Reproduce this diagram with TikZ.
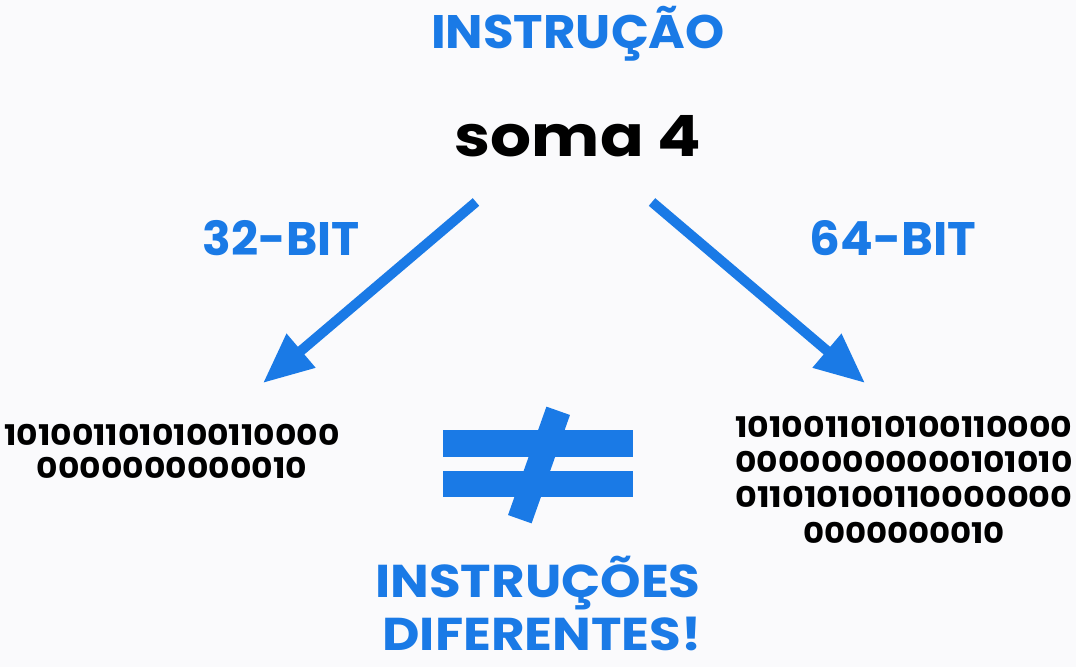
\documentclass[tikz,border=0pt]{standalone}
\usepackage{fontspec}
\usepackage{graphicx}
\setmainfont{Poppins}
\usetikzlibrary{arrows.meta}
\definecolor{bg}{RGB}{250,250,252}
\definecolor{azul}{RGB}{26,122,230}
\tikzset{
  title/.style={font=\fontsize{47}{50}\selectfont\bfseries, text=azul, inner sep=0pt, anchor=base},
  bits/.style={font=\fontsize{28.5}{34}\selectfont\bfseries, text=black, inner sep=0pt, anchor=base},
  bigarrow/.style={draw=azul, line width=10pt, -{Triangle[length=50pt,width=42pt]}},
  bar/.style={fill=azul, draw=none}
}
\newcommand{\wx}[2]{\scalebox{#1}[1]{#2}}
\newcommand{\ww}[2]{\resizebox{#1}{\height}{#2}}
\begin{document}
\begin{tikzpicture}[x=1pt,y=-1pt]
\fill[bg] (0,0) rectangle (1076,667);
\useasboundingbox (0,0) rectangle (1076,667);
\node[title] (instr) at (578,48) {\wx{1.06}{INSTRUÇÃO}};
\node[font=\fontsize{57}{60}\selectfont\bfseries, inner sep=0pt, anchor=base] (soma) at (578,156) {\wx{1.13}{soma 4}};
\node[title] (b32) at (281,255) {\wx{1.01}{32-BIT}};
\node[title] (b64) at (893,255) {\wx{1.03}{64-BIT}};
\node[bits] (bin32a) at (172,445) {\ww{335pt}{1010011010100110000}};
\node[bits] (bin32b) at (172,478) {\ww{270pt}{0000000000010}};
\node[bits] (bin64a) at (904,437) {\ww{337pt}{1010011010100110000}};
\node[bits] (bin64b) at (904,472) {\ww{337pt}{00000000000101010}};
\node[bits] (bin64c) at (904,507) {\ww{337pt}{011010100110000000}};
\node[bits] (bin64d) at (904,543) {\ww{202pt}{0000000010}};
\coordinate (s1) at (476,202);
\coordinate (t1) at (263,383);
\coordinate (s2) at (652,202);
\coordinate (t2) at (865,383);
\draw[bigarrow] (s1) -- (t1);
\draw[bigarrow] (s2) -- (t2);
\fill[bar] (443,430) rectangle (633,457);
\fill[bar] (443,471) rectangle (633,497);
\node[bar, minimum width=115pt, minimum height=25pt, rotate=70.5, inner sep=0pt] (slash) at (539,465) {};
\node[title, font=\fontsize{46}{50}\selectfont\bfseries] (dif1) at (538,597) {\wx{1.12}{INSTRUÇÕES}};
\node[title, font=\fontsize{46}{50}\selectfont\bfseries] (dif2) at (542,650) {\wx{1.12}{DIFERENTES!}};
\end{tikzpicture}
\end{document}
